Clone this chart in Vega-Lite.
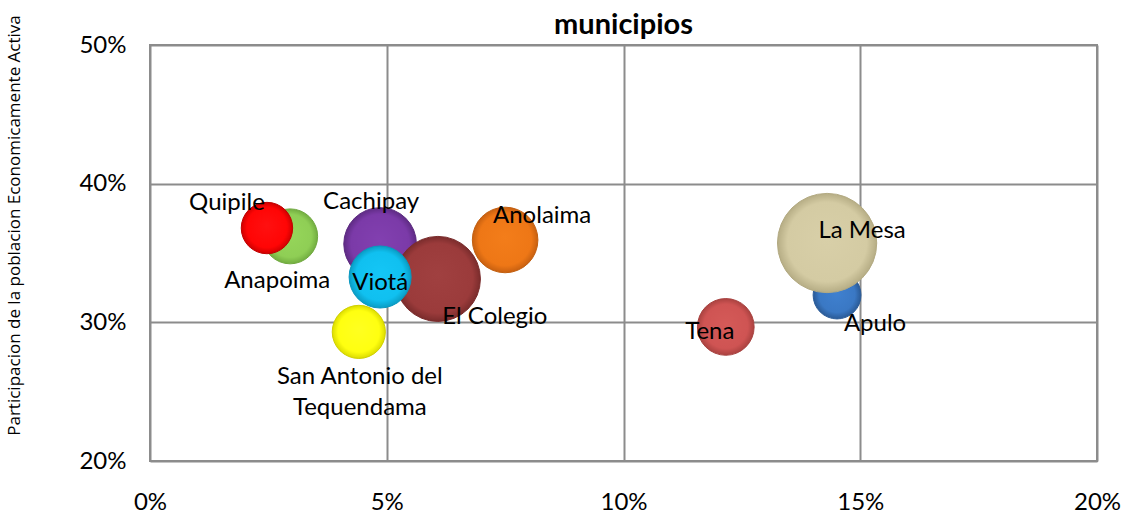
{
  "$schema": "https://vega.github.io/schema/vega-lite/v6.json",
  "width": 947,
  "height": 416,
  "autosize": {"type": "none"},
  "padding": {"left": 150, "top": 45, "right": 49, "bottom": 55},
  "background": "white",
  "config": {"view": {"stroke": "#8c8c8c", "strokeWidth": 2}, "font": "Lato"},
  "title": {"text": "municipios", "fontSize": 29, "fontWeight": "bold", "font": "Lato", "color": "#000000", "anchor": "middle", "offset": -25},
  "data": {"values": [
    {"municipio": "Apulo", "desempleo": 0.1451, "pea": 0.3197, "tamano": 729},
    {"municipio": "La Mesa", "desempleo": 0.1430, "pea": 0.3572, "tamano": 3136},
    {"municipio": "Anapoima", "desempleo": 0.0296, "pea": 0.3620, "tamano": 961},
    {"municipio": "Quipile", "desempleo": 0.0247, "pea": 0.3680, "tamano": 841},
    {"municipio": "Cachipay", "desempleo": 0.0486, "pea": 0.3565, "tamano": 1681},
    {"municipio": "Anolaima", "desempleo": 0.0750, "pea": 0.3594, "tamano": 1369},
    {"municipio": "San  Antonio del\nTequendama", "desempleo": 0.0441, "pea": 0.2931, "tamano": 900},
    {"municipio": "El Colegio", "desempleo": 0.0608, "pea": 0.3313, "tamano": 2304},
    {"municipio": "Viotá", "desempleo": 0.0486, "pea": 0.3327, "tamano": 1225},
    {"municipio": "Tena", "desempleo": 0.1216, "pea": 0.2967, "tamano": 1024}
  ]},
  "encoding": {
    "x": {"field": "desempleo", "type": "quantitative", "scale": {"domain": [0, 0.2], "nice": false},
      "axis": {"values": [0, 0.05, 0.1, 0.15, 0.2], "format": ".0%", "title": null, "grid": true, "gridColor": "#8c8c8c", "gridWidth": 2, "domain": false, "ticks": false, "labelFontSize": 24, "labelFont": "Lato", "labelPadding": 29, "labelColor": "#000000", "labelFlush": false, "labelOverlap": false}},
    "y": {"field": "pea", "type": "quantitative", "scale": {"domain": [0.2, 0.5], "nice": false, "zero": false},
      "axis": {"values": [0.2, 0.3, 0.4, 0.5], "format": ".0%", "title": "Participacion de la poblacion Economicamente Activa", "grid": true, "gridColor": "#8c8c8c", "gridWidth": 2, "domain": false, "ticks": false, "labelFontSize": 24, "labelFont": "Lato", "labelPadding": 24, "labelColor": "#000000", "labelBaseline": "middle", "labelFlush": false, "labelOverlap": false,
        "titleFont": "Open Sans", "titleFontSize": 17, "titleFontWeight": "normal", "titleColor": "#000000", "titleX": -136, "titleY": 180, "titleAngle": 270, "titleAlign": "center", "titleBaseline": "middle"}}
  },
  "layer": [
    {"transform": [{"filter": {"field": "municipio", "equal": "Apulo"}}], "mark": {"type": "circle", "opacity": 1, "stroke": "#2c5d9a", "strokeWidth": 1, "color": {"gradient": "radial", "x1": 0.5, "y1": 0.45, "r1": 0, "x2": 0.5, "y2": 0.5, "r2": 0.5, "stops": [{"offset": 0, "color": "#3f80cf"}, {"offset": 0.75, "color": "#3a78c4"}, {"offset": 1, "color": "#2a5a96"}]}},
      "encoding": {"size": {"field": "tamano", "type": "quantitative", "scale": {"domain": [0, 3136], "range": [0, 9852]}, "legend": null}}},
    {"transform": [{"filter": {"field": "municipio", "equal": "La Mesa"}}], "mark": {"type": "circle", "opacity": 1, "stroke": "#b3aa82", "strokeWidth": 1, "color": {"gradient": "radial", "x1": 0.5, "y1": 0.45, "r1": 0, "x2": 0.5, "y2": 0.5, "r2": 0.5, "stops": [{"offset": 0, "color": "#d8cfa8"}, {"offset": 0.8, "color": "#d4cba3"}, {"offset": 1, "color": "#b6ad85"}]}},
      "encoding": {"size": {"field": "tamano", "type": "quantitative", "scale": {"domain": [0, 3136], "range": [0, 9852]}, "legend": null}}},
    {"transform": [{"filter": {"field": "municipio", "equal": "Anapoima"}}], "mark": {"type": "circle", "opacity": 1, "stroke": "#6fa83e", "strokeWidth": 1, "color": {"gradient": "radial", "x1": 0.5, "y1": 0.45, "r1": 0, "x2": 0.5, "y2": 0.5, "r2": 0.5, "stops": [{"offset": 0, "color": "#96d65a"}, {"offset": 0.78, "color": "#8fce55"}, {"offset": 1, "color": "#72ad40"}]}},
      "encoding": {"size": {"field": "tamano", "type": "quantitative", "scale": {"domain": [0, 3136], "range": [0, 9852]}, "legend": null}}},
    {"transform": [{"filter": {"field": "municipio", "equal": "Quipile"}}], "mark": {"type": "circle", "opacity": 1, "stroke": "#c00000", "strokeWidth": 1, "color": {"gradient": "radial", "x1": 0.5, "y1": 0.45, "r1": 0, "x2": 0.5, "y2": 0.5, "r2": 0.5, "stops": [{"offset": 0, "color": "#ff1010"}, {"offset": 0.78, "color": "#ff0505"}, {"offset": 1, "color": "#d00000"}]}},
      "encoding": {"size": {"field": "tamano", "type": "quantitative", "scale": {"domain": [0, 3136], "range": [0, 9852]}, "legend": null}}},
    {"transform": [{"filter": {"field": "municipio", "equal": "Cachipay"}}], "mark": {"type": "circle", "opacity": 1, "stroke": "#5c2a80", "strokeWidth": 1, "color": {"gradient": "radial", "x1": 0.5, "y1": 0.45, "r1": 0, "x2": 0.5, "y2": 0.5, "r2": 0.5, "stops": [{"offset": 0, "color": "#8240b0"}, {"offset": 0.8, "color": "#7b3aa8"}, {"offset": 1, "color": "#5e2b84"}]}},
      "encoding": {"size": {"field": "tamano", "type": "quantitative", "scale": {"domain": [0, 3136], "range": [0, 9852]}, "legend": null}}},
    {"transform": [{"filter": {"field": "municipio", "equal": "Anolaima"}}], "mark": {"type": "circle", "opacity": 1, "stroke": "#c25f10", "strokeWidth": 1, "color": {"gradient": "radial", "x1": 0.5, "y1": 0.45, "r1": 0, "x2": 0.5, "y2": 0.5, "r2": 0.5, "stops": [{"offset": 0, "color": "#f37d1a"}, {"offset": 0.8, "color": "#ee7716"}, {"offset": 1, "color": "#c86010"}]}},
      "encoding": {"size": {"field": "tamano", "type": "quantitative", "scale": {"domain": [0, 3136], "range": [0, 9852]}, "legend": null}}},
    {"transform": [{"filter": {"field": "municipio", "equal": "San  Antonio del\nTequendama"}}], "mark": {"type": "circle", "opacity": 1, "stroke": "#d0d000", "strokeWidth": 1, "color": {"gradient": "radial", "x1": 0.5, "y1": 0.45, "r1": 0, "x2": 0.5, "y2": 0.5, "r2": 0.5, "stops": [{"offset": 0, "color": "#ffff20"}, {"offset": 0.78, "color": "#ffff10"}, {"offset": 1, "color": "#dcdc00"}]}},
      "encoding": {"size": {"field": "tamano", "type": "quantitative", "scale": {"domain": [0, 3136], "range": [0, 9852]}, "legend": null}}},
    {"transform": [{"filter": {"field": "municipio", "equal": "El Colegio"}}], "mark": {"type": "circle", "opacity": 1, "stroke": "#7a2c2c", "strokeWidth": 1, "color": {"gradient": "radial", "x1": 0.5, "y1": 0.45, "r1": 0, "x2": 0.5, "y2": 0.5, "r2": 0.5, "stops": [{"offset": 0, "color": "#a04040"}, {"offset": 0.82, "color": "#9b3b3b"}, {"offset": 1, "color": "#7a2c2c"}]}},
      "encoding": {"size": {"field": "tamano", "type": "quantitative", "scale": {"domain": [0, 3136], "range": [0, 9852]}, "legend": null}}},
    {"transform": [{"filter": {"field": "municipio", "equal": "Viotá"}}], "mark": {"type": "circle", "opacity": 1, "stroke": "#0898c0", "strokeWidth": 1, "color": {"gradient": "radial", "x1": 0.5, "y1": 0.45, "r1": 0, "x2": 0.5, "y2": 0.5, "r2": 0.5, "stops": [{"offset": 0, "color": "#14c6f6"}, {"offset": 0.78, "color": "#10c0f0"}, {"offset": 1, "color": "#0a9cc4"}]}},
      "encoding": {"size": {"field": "tamano", "type": "quantitative", "scale": {"domain": [0, 3136], "range": [0, 9852]}, "legend": null}}},
    {"transform": [{"filter": {"field": "municipio", "equal": "Tena"}}], "mark": {"type": "circle", "opacity": 1, "stroke": "#a84240", "strokeWidth": 1, "color": {"gradient": "radial", "x1": 0.5, "y1": 0.45, "r1": 0, "x2": 0.5, "y2": 0.5, "r2": 0.5, "stops": [{"offset": 0, "color": "#d45a58"}, {"offset": 0.78, "color": "#cf5453"}, {"offset": 1, "color": "#aa4240"}]}},
      "encoding": {"size": {"field": "tamano", "type": "quantitative", "scale": {"domain": [0, 3136], "range": [0, 9852]}, "legend": null}}},
    {"transform": [{"filter": {"field": "municipio", "equal": "Quipile"}}], "mark": {"type": "text", "fontSize": 24, "font": "Lato", "color": "#000", "align": "center", "baseline": "middle", "dx": -40, "dy": -25}, "encoding": {"text": {"field": "municipio"}}},
    {"transform": [{"filter": {"field": "municipio", "equal": "Anapoima"}}], "mark": {"type": "text", "fontSize": 24, "font": "Lato", "color": "#000", "align": "center", "baseline": "middle", "dx": -13, "dy": 45}, "encoding": {"text": {"field": "municipio"}}},
    {"transform": [{"filter": {"field": "municipio", "equal": "Cachipay"}}], "mark": {"type": "text", "fontSize": 24, "font": "Lato", "color": "#000", "align": "center", "baseline": "middle", "dx": -9, "dy": -42}, "encoding": {"text": {"field": "municipio"}}},
    {"transform": [{"filter": {"field": "municipio", "equal": "Viotá"}}], "mark": {"type": "text", "fontSize": 24, "font": "Lato", "color": "#000", "align": "center", "baseline": "middle", "dx": 0, "dy": 6}, "encoding": {"text": {"field": "municipio"}}},
    {"transform": [{"filter": {"field": "municipio", "equal": "El Colegio"}}], "mark": {"type": "text", "fontSize": 24, "font": "Lato", "color": "#000", "align": "center", "baseline": "middle", "dx": 57, "dy": 38}, "encoding": {"text": {"field": "municipio"}}},
    {"transform": [{"filter": {"field": "municipio", "equal": "Anolaima"}}], "mark": {"type": "text", "fontSize": 24, "font": "Lato", "color": "#000", "align": "center", "baseline": "middle", "dx": 37, "dy": -24}, "encoding": {"text": {"field": "municipio"}}},
    {"transform": [{"filter": {"field": "municipio", "equal": "San  Antonio del\nTequendama"}}], "mark": {"type": "text", "fontSize": 24, "font": "Lato", "color": "#000", "align": "center", "baseline": "middle", "dx": 1, "dy": 45, "lineBreak": "\n", "lineHeight": 31}, "encoding": {"text": {"field": "municipio"}}},
    {"transform": [{"filter": {"field": "municipio", "equal": "La Mesa"}}], "mark": {"type": "text", "fontSize": 24, "font": "Lato", "color": "#000", "align": "center", "baseline": "middle", "dx": 35, "dy": -12}, "encoding": {"text": {"field": "municipio"}}},
    {"transform": [{"filter": {"field": "municipio", "equal": "Apulo"}}], "mark": {"type": "text", "fontSize": 24, "font": "Lato", "color": "#000", "align": "center", "baseline": "middle", "dx": 38, "dy": 29}, "encoding": {"text": {"field": "municipio"}}},
    {"transform": [{"filter": {"field": "municipio", "equal": "Tena"}}], "mark": {"type": "text", "fontSize": 24, "font": "Lato", "color": "#000", "align": "center", "baseline": "middle", "dx": -16, "dy": 5}, "encoding": {"text": {"field": "municipio"}}}
  ]
}
